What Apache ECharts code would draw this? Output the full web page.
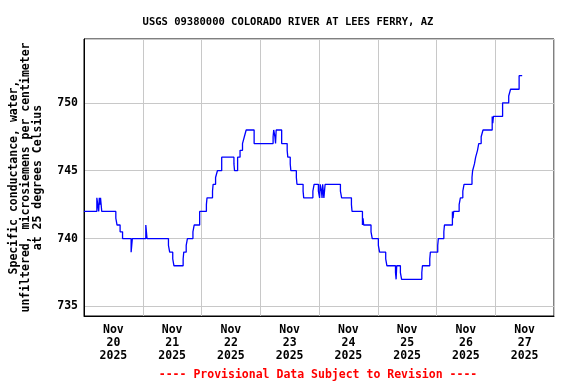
<!DOCTYPE html>
<html><head><meta charset="utf-8">
<script src="https://cdn.jsdelivr.net/npm/echarts@6/dist/echarts.min.js"></script>
<style>html,body{margin:0;padding:0;background:#fff}#c{width:576px;height:384px}</style>
</head><body><div id="c"></div>
<script>
const titleText = 'USGS 09380000 COLORADO RIVER AT LEES FERRY, AZ';
const yAxisTitle = 'Specific conductance, water,\nunfiltered, microsiemens per centimeter\nat 25 degrees Celsius';
const footnote = '---- Provisional Data Subject to Revision ----';
const dayLabels = ['Nov\n20\n2025','Nov\n21\n2025','Nov\n22\n2025','Nov\n23\n2025','Nov\n24\n2025','Nov\n25\n2025','Nov\n26\n2025','Nov\n27\n2025'];
const yTicks = [735, 740, 745, 750];
// hours since 2025-11-20 00:00
const hours = [0,5.25,6.0,6.25,6.5,6.75,7.0,7.25,13.0,13.5,14.75,15.75,19.25,19.5,19.75,25.25,25.5,25.75,
34.5,35.0,36.25,36.75,40.5,40.75,41.75,42.25,44.5,45.0,47.25,50.0,50.25,52.5,52.75,53.75,54.5,56.25,
61.25,61.5,62.75,63.75,64.75,65.5,66.25,69.5,77.25,77.5,78.0,78.25,78.5,80.75,83.0,83.25,84.25,84.5,
86.75,87.0,89.5,89.75,93.5,94.0,95.75,96.25,96.5,97.0,97.25,97.5,98.0,98.5,104.75,105.25,109.25,109.5,
113.75,114.0,114.25,117.25,117.75,120.25,120.75,123.25,123.75,127.25,127.5,127.75,129.25,129.75,
138.0,138.25,141.25,141.5,144.5,144.75,147.0,147.25,150.5,150.75,151.0,153.25,153.75,154.75,155.25,
158.5,158.75,159.5,160.0,160.75,161.25,162.25,163.0,166.75,167.0,167.25,171.0,173.5,174.25,177.75,179.0];
const values = [742,743,742,743,742.5,743,742.5,742,741.5,741,740.5,740,739,739.5,740,741,740.5,740,
739.5,739,738.5,738,738.5,739,739.5,740,740.5,741,742,742.5,743,743.5,744,744.5,745,746,
745.5,745,746,746.5,747,747.5,748,747,747.5,748,747.5,747,748,747,746.5,746,745.5,745,
744.5,744,743.5,743,743.5,744,743.5,743,744,743.5,743,744,743,744,743.5,743,742.5,742,
741,741.5,741,740.5,740,739.5,739,738.5,738,737.5,737,738,737.5,737,
737.5,738,738.5,739,739.5,740,740.5,741,742,741.5,742,742.5,743,743.5,744,
744.5,745,745.5,746,746.5,747,747.5,748,749,748.5,749,750,750.5,751,752,752];

const FONT = 'DejaVu Sans Mono';
const chart = echarts.init(document.getElementById('c'), null, {renderer:'canvas'});
const data = hours.map((h, i) => [h, values[i]]);
chart.setOption({
  animation: false,
  backgroundColor: '#fff',
  title: {text: titleText, left: 'center', top: 12,
    textStyle: {fontFamily: FONT, fontSize: 10.5, fontWeight: 'bold', color: '#000'}},
  graphic: [{type: 'text', x: 318, y: 375,
    style: {text: footnote, fill: '#ff0000', font: 'bold 11.5px "DejaVu Sans Mono"', align: 'center', verticalAlign: 'middle'}}],
  grid: {left: 84, top: 39, width: 470, height: 277, show: true, borderColor: '#000', borderWidth: 1, backgroundColor: 'transparent'},
  xAxis: [
    {type: 'value', min: 0, max: 192, interval: 24, position: 'bottom',
     axisLine: {show: true, lineStyle: {color: '#000', width: 1}}, axisTick: {show: false},
     axisLabel: {show: false}, splitLine: {show: true, lineStyle: {color: '#c8c8c8', width: 1}}},
    {type: 'value', min: 0, max: 192, interval: 12, position: 'bottom',
     axisLine: {show: false}, axisTick: {show: false}, splitLine: {show: false},
     axisLabel: {show: true, margin: 8, interval: 0, showMinLabel: true, showMaxLabel: true,
       formatter: v => (v % 24 === 12 ? dayLabels[(v - 12) / 24] : ''),
       fontFamily: FONT, fontSize: 11.5, fontWeight: 'bold', color: '#000', lineHeight: 13}}
  ],
  yAxis: {type: 'value', min: 734.3, max: 754.7, splitNumber: 4,
    name: yAxisTitle, nameLocation: 'middle', nameRotate: 90, nameGap: 40,
    nameTextStyle: {fontFamily: FONT, fontSize: 11.5, fontWeight: 'bold', color: '#000', lineHeight: 12, align: 'center'},
    axisLine: {show: true, lineStyle: {color: '#000', width: 1}}, axisTick: {show: false},
    axisLabel: {showMinLabel: false, showMaxLabel: false, margin: 6,
      formatter: v => (yTicks.includes(v) ? String(v) : ''),
      fontFamily: FONT, fontSize: 11.5, fontWeight: 'bold', color: '#000'},
    splitLine: {show: true, lineStyle: {color: '#c8c8c8', width: 1}}},
  series: [{type: 'line', xAxisIndex: 0, data: data, step: 'end', showSymbol: false, symbol: 'none',
    lineStyle: {color: '#0000ff', width: 1.3}, z: 5}]
});
</script></body></html>
